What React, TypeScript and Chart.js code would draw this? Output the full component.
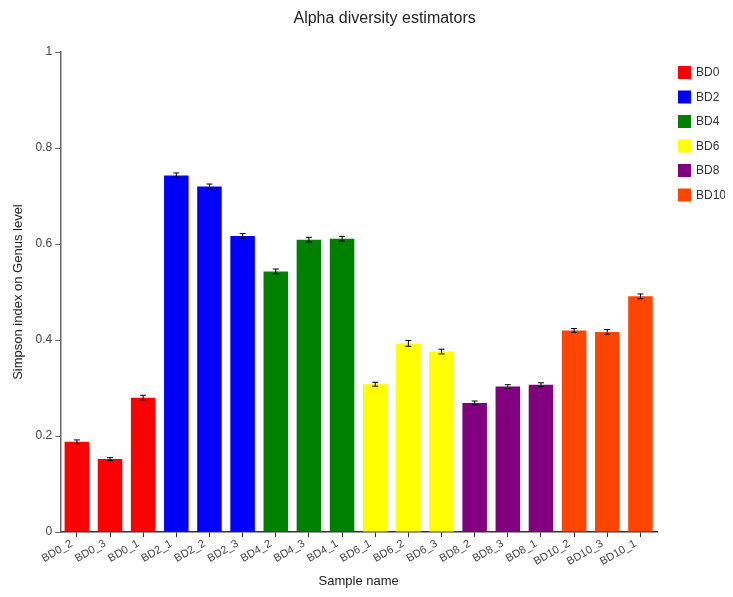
import React, { useEffect, useRef } from "react";
import { Chart, registerables } from "chart.js";

Chart.register(...registerables);

const categories = [
  "BD0_2", "BD0_3", "BD0_1",
  "BD2_1", "BD2_2", "BD2_3",
  "BD4_2", "BD4_3", "BD4_1",
  "BD6_1", "BD6_2", "BD6_3",
  "BD8_2", "BD8_3", "BD8_1",
  "BD10_2", "BD10_3", "BD10_1",
];
const groups = ["BD0", "BD2", "BD4", "BD6", "BD8", "BD10"];
const groupColors = ["#ff0000", "#0000ff", "#008000", "#ffff00", "#800080", "#ff4500"];
const simpsonValues = [
  0.188, 0.152, 0.280,
  0.743, 0.720, 0.617,
  0.543, 0.609, 0.611,
  0.308, 0.393, 0.376,
  0.269, 0.303, 0.307,
  0.420, 0.417, 0.491,
];
const errorValues = [
  0.004, 0.003, 0.005,
  0.005, 0.005, 0.005,
  0.005, 0.005, 0.005,
  0.004, 0.006, 0.005,
  0.004, 0.004, 0.004,
  0.004, 0.005, 0.005,
];
const yTicks = [0, 0.2, 0.4, 0.6, 0.8, 1];

const FONT = "'Liberation Sans', Arial, sans-serif";

const errorBarPlugin = {
  id: "errorBars",
  afterDatasetsDraw(chart: any) {
    const { ctx, scales } = chart;
    const xs = scales.x;
    const ys = scales.y;
    ctx.save();
    ctx.strokeStyle = "#000";
    ctx.lineWidth = 1;
    simpsonValues.forEach((v, i) => {
      const e = errorValues[i];
      const x = xs.getPixelForValue(i);
      const yt = ys.getPixelForValue(v + e);
      const yb = ys.getPixelForValue(v - e);
      ctx.beginPath();
      ctx.moveTo(x, yt);
      ctx.lineTo(x, yb);
      ctx.moveTo(x - 3, yt);
      ctx.lineTo(x + 3, yt);
      ctx.moveTo(x - 3, yb);
      ctx.lineTo(x + 3, yb);
      ctx.stroke();
    });
    ctx.restore();
  },
};

const titlePlugin = {
  id: "customTitle",
  afterDraw(chart: any) {
    const { ctx } = chart;
    ctx.save();
    ctx.font = `16px ${FONT}`;
    ctx.fillStyle = "#222";
    ctx.textAlign = "center";
    ctx.textBaseline = "middle";
    ctx.fillText("Alpha diversity estimators", chart.chartArea.left + (chart.chartArea.right - chart.chartArea.left) / 2 + 26, 11);
    ctx.restore();
  },
};

const legendPlugin = {
  id: "customLegend",
  afterDraw(chart: any) {
    const { ctx, chartArea } = chart;
    ctx.save();
    ctx.font = `12px ${FONT}`;
    ctx.textAlign = "left";
    ctx.textBaseline = "middle";
    chart.data.datasets.forEach((ds: any, i: number) => {
      const x = chartArea.right + 21;
      const y = chartArea.top + 14 + i * 24.5;
      ctx.fillStyle = ds.backgroundColor;
      ctx.fillRect(x, y, 13, 13);
      ctx.fillStyle = "#333";
      ctx.fillText(ds.label, x + 18, y + 7);
    });
    ctx.restore();
  },
};

export default function App() {
  const ref = useRef<HTMLCanvasElement | null>(null);
  useEffect(() => {
    if (!ref.current) return;
    const groupOf = (c: string) => groups.indexOf(c.split("_")[0]);
    const chart = new Chart(ref.current, {
      type: "bar",
      data: {
        labels: categories,
        datasets: groups.map((g, gi) => ({
          label: g,
          data: categories.map((c, i) => (groupOf(c) === gi ? simpsonValues[i] : null)),
          backgroundColor: groupColors[gi],
          borderWidth: 0,
          barPercentage: 0.74,
          categoryPercentage: 1,
        })),
      },
      options: {
        animation: false,
        responsive: false,
        layout: { padding: { top: 44, left: 3, right: 68, bottom: 0 } },
        plugins: {
          legend: { display: false },
          tooltip: { enabled: false },
          title: { display: false },
        },
        scales: {
          x: {
            stacked: true,
            grid: { display: true, drawOnChartArea: false, offset: false, tickLength: 5, color: "#333" },
            border: { display: true, color: "#333", width: 1.5 },
            ticks: {
              autoSkip: false,
              maxRotation: 30,
              minRotation: 30,
              color: "#444",
              padding: 0,
              labelOffset: -5,
              font: { family: FONT, size: 11 },
            },
            title: {
              display: true,
              text: "Sample name",
              color: "#222",
              padding: { top: 5, bottom: 0 },
              font: { family: FONT, size: 13 },
            },
          },
          y: {
            stacked: true,
            min: 0,
            max: 1,
            afterBuildTicks(scale: any) {
              scale.ticks = yTicks.map((v) => ({ value: v }));
            },
            grid: { display: true, drawOnChartArea: false, tickLength: 5, color: "#666" },
            border: { display: true, color: "#666", width: 1.5 },
            ticks: {
              color: "#444",
              padding: 3,
              font: { family: FONT, size: 12 },
              callback: (v: any) => String(Number(v)),
            },
            title: {
              display: true,
              text: "Simpson index on Genus level",
              color: "#222",
              padding: { top: 0, bottom: 6 },
              font: { family: FONT, size: 13 },
            },
          },
        },
      },
      plugins: [errorBarPlugin, titlePlugin, legendPlugin],
    });
    return () => chart.destroy();
  }, []);
  return <canvas ref={ref} width={717} height={581} style={{ display: "block" }} />;
}
